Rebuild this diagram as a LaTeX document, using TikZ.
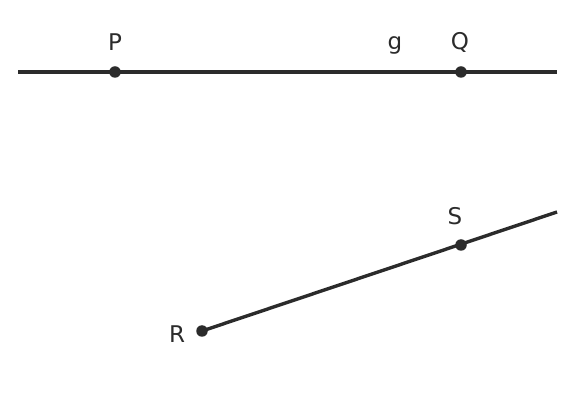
\documentclass[tikz,border=0pt]{standalone}
\usepackage{fontspec}
\setmainfont{DejaVu Sans}
\definecolor{ink}{HTML}{2B2B2B}
\begin{document}
\begin{tikzpicture}[x=1pt,y=-1pt,
  lineg/.style={draw=ink,line width=3.4pt},
  pt/.style={circle,fill=ink,inner sep=0pt,minimum size=11.5pt},
  lab/.style={text=ink,font=\fontsize{23}{23}\selectfont,inner sep=0pt}]
\useasboundingbox (0,0) rectangle (576,403);
\coordinate (g1) at (18,72);
\coordinate (g2) at (557,72);
\coordinate (h2) at (557,212);
\node[pt] (P) at (115,72) {};
\node[pt] (Q) at (461,72) {};
\node[pt] (R) at (202,331) {};
\node[pt] (S) at (461,245) {};
\draw[lineg] (g1) -- (g2);
\draw[lineg] (R.center) -- (h2);
\node[lab] (lP) at (115,42) {P};
\node[lab] (lQ) at (460,42) {Q};
\node[lab] (lg) at (395,45) {g};
\node[lab] (lR) at (177,334) {R};
\node[lab] (lS) at (455,216) {S};
\end{tikzpicture}
\end{document}
